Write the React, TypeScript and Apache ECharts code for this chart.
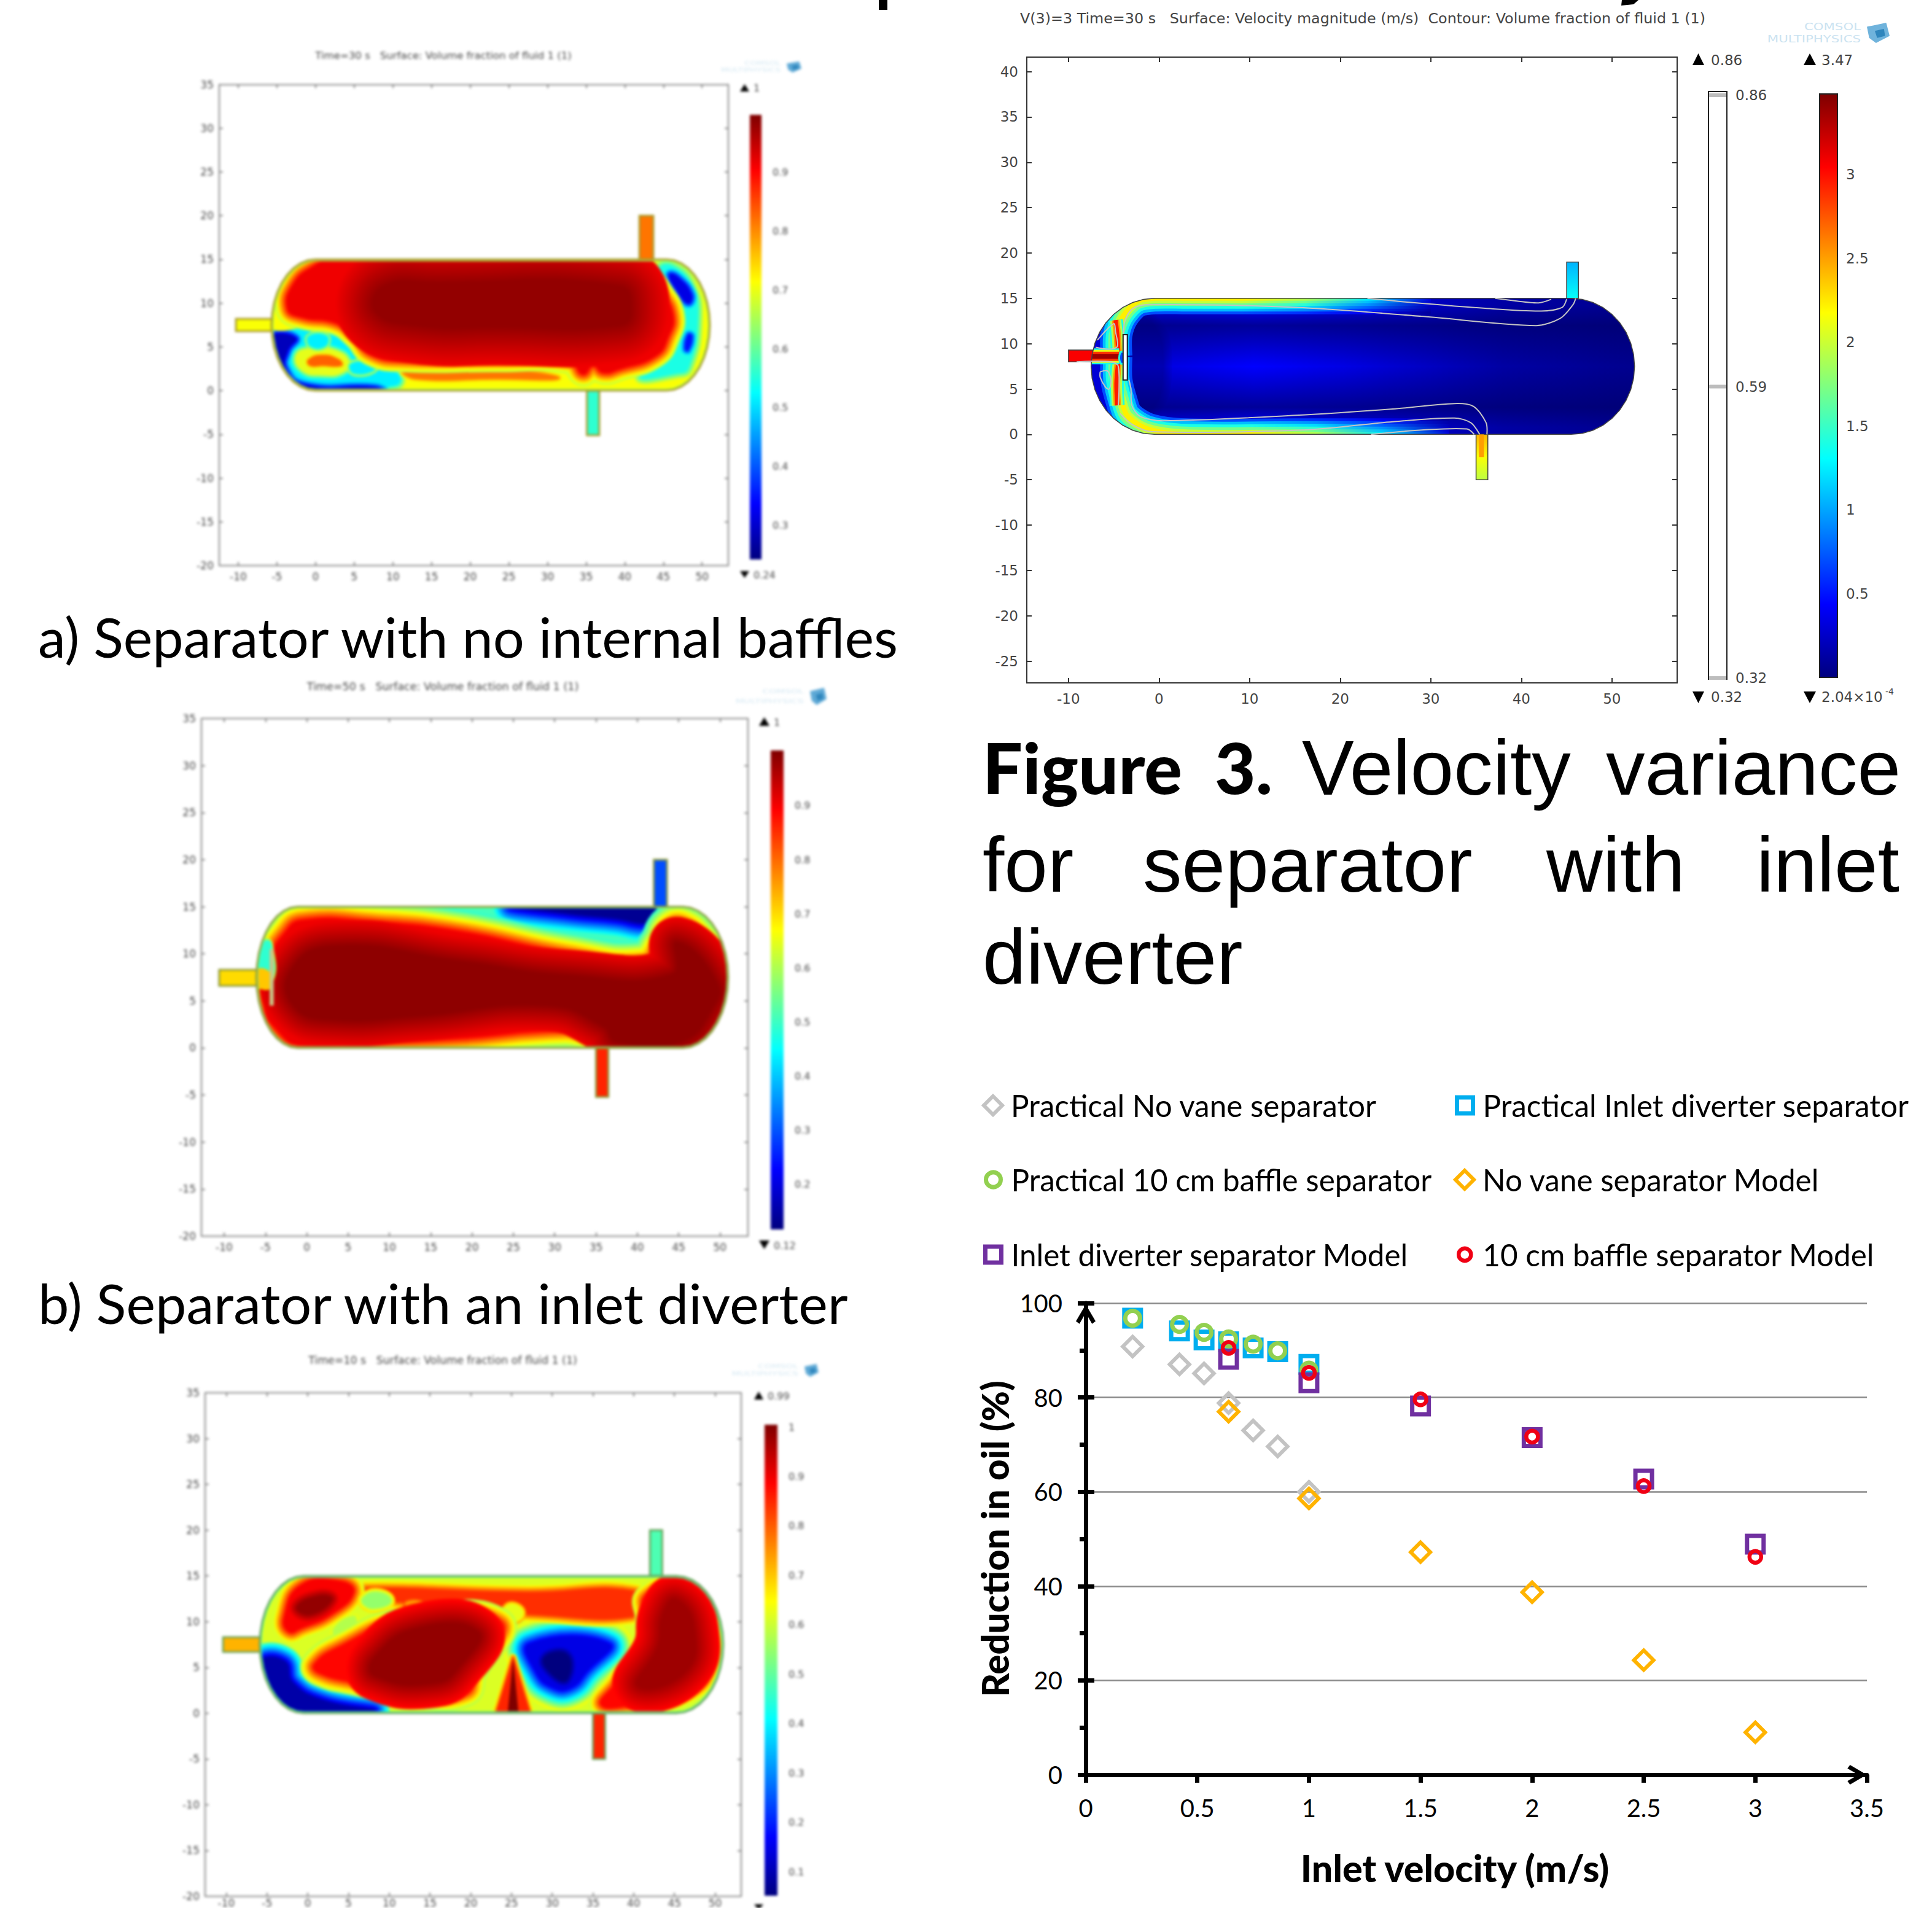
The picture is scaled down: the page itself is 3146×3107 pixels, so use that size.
import React, { useEffect, useRef } from "react";
import * as echarts from "echarts";

/* ---------- main scatter data ---------- */
const practicalVelocity = [0.21, 0.42, 0.53, 0.64, 0.75, 0.86, 1.0];
const modelVelocity = [0.64, 1, 1.5, 2, 2.5, 3];
const practicalNoVane = [90.8, 87, 85.1, 78.8, 73, 69.6, 60];
const practicalDiverter = [96.8, 94.1, 92.2, 91.8, 90.5, 89.7, 87];
const practicalBaffle = [96.8, 95.5, 93.8, 92.4, 91.3, 89.9, 85.8];
const modelNoVane = [77, 58.6, 47.2, 38.7, 24.3, 9];
const modelDiverter = [88.1, 83.1, 78.2, 71.5, 62.7, 48.9];
const modelBaffle = [90.5, 85.2, 79.6, 71.7, 61.2, 46.2];

/* ---------- axis ticks of the simulation plots ---------- */
const ticksX5 = [-10, -5, 0, 5, 10, 15, 20, 25, 30, 35, 40, 45, 50];
const ticksY55 = [-20, -15, -10, -5, 0, 5, 10, 15, 20, 25, 30, 35];
const ticksX10 = [-10, 0, 10, 20, 30, 40, 50];
const ticksY65 = [-25, -20, -15, -10, -5, 0, 5, 10, 15, 20, 25, 30, 35, 40];
const barA = [0.3, 0.4, 0.5, 0.6, 0.7, 0.8, 0.9];
const barB = [0.2, 0.3, 0.4, 0.5, 0.6, 0.7, 0.8, 0.9];
const barC = [0.1, 0.2, 0.3, 0.4, 0.5, 0.6, 0.7, 0.8, 0.9, 1];
const barSpeed = [0.5, 1, 1.5, 2, 2.5, 3];
const barContour = [0.32, 0.59, 0.86];

/* ---------- field regions, in plot units ---------- */
type Pt = number[];
const aCyanLow: Pt[] = [[-5.7,6.6],[-2.8,7],[2.5,6.2],[6.2,4.2],[9.8,2.5],[10.9,1.1],[9.3,.5],[2.5,0],[-1.2,-.3],[-4.4,1.7],[-5.7,4.2]];
const aBlueLow: Pt[] = [[-5.9,6.2],[-2.6,6],[-3.6,4.6],[-3.9,2.5],[-1.4,.6],[7.7,.3],[8.8,-.3],[-1.2,-.6],[-4.4,1.2],[-6,4.2]];
const aRing: Pt[] = [[-2.5,4],[-.7,4.8],[2.5,4.6],[4.3,3.3],[3.5,2.1],[.9,1.8],[-1.7,2.3]];
const aRingCore: Pt[] = [[-.9,3.5],[.9,4],[3,3.5],[3.3,2.9],[.9,2.9],[-.7,2.9]];
const aSpot1: Pt[] = [[-.8,6.2],[1.4,6.2],[1.2,5.1],[-.6,5.1]];
const aSpot2: Pt[] = [[4.6,3],[7,3.1],[7.6,2.4],[5,2]];
const aJet: Pt[] = [[-5.9,7],[-5.9,8.6],[-1.7,8.4],[2.5,7.8],[5,6.2],[3,6.4],[0,7.2]];
const aStrip: Pt[] = [[11.4,2.3],[18.3,2.6],[26.2,2.3],[31.4,1.4],[23.5,1.4],[12.9,1.4]];
const aRightCyan: Pt[] = [[44.6,14],[46.2,14.2],[48.6,12],[49.4,8.2],[48.2,2.6],[46.7,2],[42,1.6],[46.4,4.5],[47.5,8.6],[45.4,12.2]];
const aRightBlue1: Pt[] = [[45.8,13.2],[46.8,13],[48.6,11],[48.2,10],[46.8,11.4]];
const aRightBlue2: Pt[] = [[48.2,6.4],[48.7,6.2],[48.2,4.6],[47.8,4.8]];
const aMain: Pt[] = [[-3.6,9.4],[-2.8,12.2],[-.2,14.2],[3.5,15.6],[42,15.6],[42.7,13.8],[44.6,11.4],[46.2,8.6],[45.6,6.2],[44,4],[39.3,2.5],[37.2,2.1],[35.9,2.9],[34.6,1.9],[33,3.3],[23.5,3.5],[11.4,3.5],[7.2,4.2],[5.1,6.2],[2.5,7.8],[-1.7,8.4]];
const aCore: Pt[] = [[8.8,12],[15.6,12.4],[39.3,12],[40.9,9],[39.3,7.4],[23.5,7.2],[13,7.4],[7.7,9]];

const bBlueTop: Pt[] = [[25,15.2],[42.1,15.2],[42.7,13.9],[41.1,13.3],[37.5,13.8],[31.8,14.3]];
const bMain: Pt[] = [[-2.7,12.1],[-.6,13.5],[8.2,13.3],[18.7,12.3],[31.7,9.9],[40.6,9.1],[42.7,10.9],[44,12.9],[45.5,13.1],[47.9,11.4],[50.5,9],[51.3,7],[49.4,2.9],[45.5,-.3],[36.4,-.3],[34.8,.9],[33.5,1.7],[29.1,1.9],[18.7,1.1],[8.2,.7],[-.6,.3],[-3.7,2.1],[-5,4.5],[-4.2,9.7]];
const bCore: Pt[] = [[-2,8.1],[3,10.8],[18.7,9.2],[31.7,7.7],[44.2,7.8],[44.8,11.2],[49.6,7],[49,4.1],[45.3,.7],[37.5,.7],[35.9,2.3],[29.1,4.5],[13.5,3.4],[3,3],[-1.5,4.4]];
const bLeftHead: Pt[] = [[-6.4,6.8],[-6.4,9.5],[-5,11.4],[-4.3,11],[-4.3,7]];
const bJet: Pt[] = [[-6.2,6.7],[-6.2,8.3],[-4.4,8],[-4.4,6.3]];

const cBlueCorner: Pt[] = [[-6,5.7],[-2.9,5.7],[-1.8,3.3],[1.9,1.4],[8.2,.2],[-.2,-.5],[-3.4,.8],[-6,3.7]];
const cLeftRed: Pt[] = [[-2.9,10.4],[-.8,14],[4,14.4],[5.6,13.2],[2.9,10.8],[-.8,9.3],[-2.3,8.9]];
const cLeftCore: Pt[] = [[-1.3,11.6],[1.4,12.8],[2.9,12.4],[.3,10.8]];
const cUpperBand: Pt[] = [[5.1,13.6],[26.7,13.2],[41,13.2],[41.5,10.8],[27.2,10.8],[22.4,11.6],[10.8,12.2],[6.1,12.8]];
const cSpotA: Pt[] = [[6.8,12.6],[8.6,13.2],[10.2,12.3],[8.6,11.5],[7,11.8]];
const cSpotB: Pt[] = [[24.3,11.6],[25.6,11.8],[26.4,10.8],[25.2,10],[24.4,10.6]];
const cSpotC: Pt[] = [[3.2,9.2],[5.6,10.6],[5.8,9.6],[3.8,8.2]];
const cSpotD: Pt[] = [[12.2,12.1],[13.9,12.1],[13.9,11.5],[12.2,11.5]];
const cSpotE: Pt[] = [[17,12],[18.7,12],[18.7,11.4],[17,11.4]];
const cSpotF: Pt[] = [[20.5,11.8],[22,11.8],[22,11],[20.5,11]];
const cMain: Pt[] = [[.8,5.3],[4,7.3],[11.4,10],[23.6,10],[20.4,4.5],[19.4,2.2],[13.5,2],[5.6,3.4],[1.4,4.4]];
const cMainCore: Pt[] = [[8.2,6.1],[13.5,9.3],[20.9,8.9],[18.8,5.3],[15.6,3.3],[8.2,4.1]];
const cBlue: Pt[] = [[27.2,7.6],[37,7.6],[34.2,4.5],[32.3,2.8],[30.1,2.8],[28,4.5]];
const cBlueCore: Pt[] = [[29,6],[31.8,6.4],[31.8,3.7],[30.2,4.1]];
const cRight: Pt[] = [[41.5,10.4],[41.5,12.8],[46.2,13.9],[48.9,10],[49.4,5.3],[46.7,2.2],[39.9,.9],[36,.9],[37.8,3.3],[41.4,7.7]];
const cRightCore: Pt[] = [[43.6,10.8],[45.2,12.4],[47.4,9.3],[46.3,4.5],[40.5,3],[43,7.3]];
const cSpike: Pt[] = [[23,-.3],[25.2,6.1],[27.4,-.3]];
const cSpikeCore: Pt[] = [[24.5,-.3],[25.2,6],[25.9,-.3]];

const dBehind: Pt[] = [[-3.4,4],[-1,2.5],[.5,8],[-1,12.5],[-3.4,12]];
const dJetTop: Pt[] = [[-4.7,8.6],[-4.7,11],[-4,13],[-2.5,14.6],[-.5,15],[3,15],[15,15],[30,15]];
const dJetLow: Pt[] = [[-4.7,8.6],[-4.7,6],[-4.13,3.66],[-3.45,2],[-1.2,.6],[3,0],[15,0],[32,0]];
const dHotUp: Pt[] = [[-4.5,8.8],[-4.6,10.8],[-4.8,12.6]];
const dHotDown: Pt[] = [[-4.5,8],[-4.7,5.6],[-4.6,3.2]];
const dInletJet: Pt[] = [[-7.6,8.6],[-4.4,8.6]];
const dHole: Pt[] = [[-4.3,9],[-3.9,9],[-3.9,7.9],[-4.3,7.9]];
const dOutletHot: Pt[] = [[35.6,0],[35.6,-2.5]];
const dShade: Pt[] = [[-4,0],[60,0],[60,15],[-4,15]];
const dContours: Pt[][] = [
  [[37.1,15],[39.5,14.7],[41.9,14.5],[43.3,14.9]],
  [[23,15],[27.2,14.6],[36,13.9],[42.2,13.6],[44.5,14],[45,14.9]],
  [[-3.9,11.1],[-3.8,12.4],[-3,13.8],[-1.4,14.3],[15.1,14],[29.2,13],[41.6,12],[44.3,12.8],[45.7,14.3],[46,15]],
  [[-3.33,6],[-3.1,5],[-3,3.2],[-2.1,2],[.4,1.5],[15.1,2.1],[25.8,2.8],[32.6,3.4],[34.7,3.1],[36.1,1.3],[36.2,0]],
  [[-4.3,2.3],[-3,1.1],[-.8,.3],[16.2,.5],[25.8,1.4],[32.6,1.8],[34.4,1.3],[35.4,0]],
  [[23.4,0],[29.2,.5],[34,.6],[34.8,0]],
  [[-6.5,6.9],[-5.7,7],[-5.3,6],[-5.5,5],[-5.9,5.2],[-6.5,6.3],[-6.5,6.9]],
  [[-6.8,10.4],[-5,12.2],[-4.8,11.3],[-4.6,9.7],[-5.6,9.4],[-7,9.6]],
  [[-9.1,8],[-5.3,8],[-4.5,7.5],[-4.5,3.2]],
];
const dBaffle: Pt[] = [[-3.97,6],[-3.5,6],[-3.5,11],[-3.97,11]];
const bBaffle: Pt[] = [[-4.5,4.5],[-4,4.5],[-4,10.5],[-4.5,10.5]];

/* ---------- colour ---------- */
const JET: [number, number[]][] = [[0,[0,0,127]],[.125,[0,0,255]],[.375,[0,255,255]],[.625,[255,255,0]],[.875,[255,0,0]],[1,[127,0,0]]];
function jet(t: number) {
  const v = Math.max(0, Math.min(1, t));
  for (let i = 1; i < JET.length; i++) {
    if (v <= JET[i][0]) {
      const f = (v - JET[i-1][0]) / (JET[i][0] - JET[i-1][0]);
      const c = JET[i-1][1].map((a, k) => Math.round(a + (JET[i][1][k] - a) * f));
      return `rgb(${c[0]},${c[1]},${c[2]})`;
    }
  }
  return "rgb(127,0,0)";
}
const jetStops = JET.map(([o]) => ({ offset: 1 - o, color: jet(o) })).reverse();

function vesselOutline(l: number, fl: number, fr: number, r: number) {
  const out: Pt[] = [];
  const n = 18;
  for (let i = 0; i <= n; i++) { const a = Math.PI/2 - Math.PI*i/n; out.push([fr + (r-fr)*Math.cos(a), 7.5 + 7.5*Math.sin(a)]); }
  for (let i = 0; i <= n; i++) { const a = -Math.PI/2 - Math.PI*i/n; out.push([fl + (fl-l)*Math.cos(a), 7.5 + 7.5*Math.sin(a)]); }
  return out;
}
const box = (x0: number, x1: number, y0: number, y1: number): Pt[] => [[x0,y0],[x1,y0],[x1,y1],[x0,y1]];

type Layer = { pts: Pt[]; t: number; from?: number; px?: number; sharp?: boolean };

function blob(P: (p: Pt[]) => number[][], l: Layer) {
  const out: any[] = [];
  const points = P(l.pts);
  const smooth = l.sharp ? 0 : 0.5;
  if (l.px) {
    const steps = Math.max(4, Math.min(18, Math.round(l.px / 2)));
    for (let i = 0; i < steps; i++) {
      const k = i / steps;
      out.push({ type: "polygon", shape: { points, smooth },
        style: { fill: "none", stroke: jet((l.from as number) + (l.t - (l.from as number)) * k), lineWidth: 2 * l.px * (1 - k), lineJoin: "round" } });
    }
  }
  out.push({ type: "polygon", shape: { points, smooth }, style: { fill: jet(l.t) } });
  return out;
}

class Builder {
  grid: any[] = []; xAxis: any[] = []; yAxis: any[] = []; series: any[] = []; graphic: any[] = [];
  frame(o: any) {
    const gi = this.grid.length;
    this.grid.push({ left: o.left, top: o.top, width: o.right - o.left, height: o.bottom - o.top, containLabel: false });
    const line = { onZero: false, lineStyle: { color: o.line, width: o.lineW ?? 2 } };
    const label = { fontFamily: "DejaVu Sans", fontSize: o.font, color: o.text, margin: o.margin ?? 9 };
    const xi = this.xAxis.length, yi = this.yAxis.length;
    const tick = (vals: number[]) => ({ show: true, customValues: vals, inside: true, length: o.tick ?? 7, lineStyle: { color: o.line, width: o.lineW ?? 2 } });
    this.xAxis.push(
      { gridIndex: gi, type: "value", min: o.xMin, max: o.xMax, position: "bottom", axisLine: line, axisTick: tick(o.xTicks), axisLabel: { ...label, customValues: o.xTicks, margin: o.marginX ?? label.margin }, splitLine: { show: false } },
      { gridIndex: gi, type: "value", min: o.xMin, max: o.xMax, position: "top", axisLine: line, axisTick: tick(o.xTicks), axisLabel: { show: false }, splitLine: { show: false } });
    this.yAxis.push(
      { gridIndex: gi, type: "value", min: o.yMin, max: o.yMax, position: "left", axisLine: line, axisTick: tick(o.yTicks), axisLabel: { ...label, customValues: o.yTicks }, splitLine: { show: false } },
      { gridIndex: gi, type: "value", min: o.yMin, max: o.yMax, position: "right", axisLine: line, axisTick: tick(o.yTicks), axisLabel: { show: false }, splitLine: { show: false } });
    return { xi, yi };
  }
  bar(o: any) {
    const gi = this.grid.length;
    this.grid.push({ left: o.left, top: o.top, width: o.right - o.left, height: o.bottom - o.top, containLabel: false });
    const xi = this.xAxis.length, yi = this.yAxis.length;
    this.xAxis.push({ gridIndex: gi, type: "value", min: 0, max: 1, show: false });
    this.yAxis.push({ gridIndex: gi, type: "value", min: o.min, max: o.max, position: "right",
      axisLine: { show: false, onZero: false },
      axisTick: { show: !!o.ticks, customValues: o.ticks_vals, inside: true, length: 6, lineStyle: { color: "#222", width: 2 } },
      axisLabel: { customValues: o.labels, fontFamily: "DejaVu Sans", fontSize: o.font, color: o.text, margin: o.margin ?? 12, formatter: (v: number) => String(v) },
      splitLine: { show: false } });
    const white = o.white;
    this.series.push({ type: "custom", coordinateSystem: "cartesian2d", xAxisIndex: xi, yAxisIndex: yi, silent: true, clip: false, data: [[0, o.min]],
      renderItem: (_p: any, api: any) => {
        const a = api.coord([0, o.max]); const b = api.coord([1, o.min]);
        const kids: any[] = [{ type: "rect", shape: { x: a[0], y: a[1], width: b[0]-a[0], height: b[1]-a[1] },
          style: { fill: white ? "#fff" : new echarts.graphic.LinearGradient(0, 0, 0, 1, jetStops), stroke: o.border ?? "none", lineWidth: 2 } }];
        if (white) (o.labels as number[]).forEach((v) => {
          const p = api.coord([0, v]);
          kids.push({ type: "line", shape: { x1: a[0]+1, y1: p[1], x2: b[0]-1, y2: p[1] }, style: { stroke: "#bdbdbd", lineWidth: 6 } });
        });
        return { type: "group", children: kids };
      } });
  }
  text(text: string, x: number, y: number, s: any = {}) {
    this.graphic.push({ type: "text", x, y, scaleX: s.scaleX ?? 1, silent: true, style: { text, fontFamily: s.family ?? "DejaVu Sans", fontSize: s.size ?? 16, fontWeight: s.weight ?? "normal", fill: s.color ?? "#333", textAlign: s.align ?? "left", textVerticalAlign: "middle" } });
  }
  poly(points: number[][], fill: string) { this.graphic.push({ type: "polygon", silent: true, shape: { points }, style: { fill } }); }
  tri(x0: number, x1: number, y0: number, y1: number, up: boolean) {
    this.poly(up ? [[x0,y1],[x1,y1],[(x0+x1)/2,y0]] : [[x0,y0],[x1,y0],[(x0+x1)/2,y1]], "#000");
  }
  logo(x1: number, y0: number, y1: number, cube: number, size: number, stretch: number, c1: string, c2: string) {
    this.text("COMSOL", cube - 10, y0 + (y1-y0)*.2, { size, color: c1, align: "right", scaleX: stretch });
    this.text("MULTIPHYSICS", cube - 10, y0 + (y1-y0)*.8, { size, color: c1, align: "right", scaleX: stretch });
    const w = x1 - cube, h = y1 - y0;
    this.poly([[cube, y0+h*.2],[cube+w*.85, y0],[x1, y0+h*.65],[cube+w*.4, y1],[cube+w*.1, y0+h*.75]], c2);
    this.poly([[cube+w*.35, y0+h*.4],[cube+w*.75, y0+h*.3],[cube+w*.8, y0+h*.65],[cube+w*.45, y0+h*.75]], "#2f86bd");
  }
  field(axes: any, f: any) {
    this.series.push({ type: "custom", coordinateSystem: "cartesian2d", xAxisIndex: axes.xi, yAxisIndex: axes.yi, silent: true, clip: false, data: [[0, 0]],
      renderItem: (_p: any, api: any) => {
        const P = (pts: Pt[]) => pts.map((p) => api.coord(p));
        const shell = P(f.vessel);
        const inner: any[] = [];
        inner.push({ type: "polygon", shape: { points: shell }, style: { fill: f.baseFill ? f.baseFill() : jet(f.base) } });
        (f.layers as Layer[]).forEach((l) => inner.push(...blob(P, l)));
        if (f.paths) f.paths(P, inner);
        if (f.wall != null) inner.push({ type: "polygon", shape: { points: shell }, style: { fill: "none", stroke: jet(f.wall), lineWidth: f.wallW ?? 8, lineJoin: "round" } });
        const kids: any[] = [];
        (f.pipes as any[]).forEach((q) => kids.push({ type: "polygon", shape: { points: P(q.pts) }, style: { fill: q.fill ?? jet(q.t), stroke: f.edge, lineWidth: f.edgeW ?? 3 } }));
        kids.push({ type: "group", clipPath: { type: "polygon", shape: { points: shell } }, children: inner });
        kids.push({ type: "polygon", shape: { points: shell }, style: { fill: "none", stroke: f.edge, lineWidth: f.edgeW ?? 3 } });
        if (f.top) f.top(P, kids);
        return { type: "group", children: kids };
      } });
  }
  option() { return { animation: false, backgroundColor: "transparent", grid: this.grid, xAxis: this.xAxis, yAxis: this.yAxis, series: this.series, graphic: { elements: this.graphic } }; }
}

function softOption() {
  const b = new Builder();
  const ink = "#444";
  const style = { line: "#808080", text: ink, font: 17, tick: 6, lineW: 2 };
  // panel a
  const a = b.frame({ ...style, left: 357, right: 1186, top: 137.5, bottom: 921, xMin: -12.46, xMax: 53.4, yMin: -20, yMax: 35, xTicks: ticksX5, yTicks: ticksY55 });
  b.field(a, {
    vessel: vesselOutline(-5.7, 0, 45.4, 51), base: .62, wall: .54, wallW: 6, edge: "#a89a2a",
    layers: [
      { pts: aRightCyan, t: .4, from: .62, px: 12 }, { pts: aRightBlue1, t: .1, from: .36, px: 9 }, { pts: aRightBlue2, t: .14, from: .36, px: 7 },
      { pts: aCyanLow, t: .36, from: .58, px: 10 }, { pts: aBlueLow, t: .06, from: .33, px: 9 },
      { pts: aRing, t: .6, from: .38, px: 8 }, { pts: aRingCore, t: .78, from: .6, px: 5 },
      { pts: aSpot1, t: .36, from: .55, px: 5 }, { pts: aSpot2, t: .36, from: .58, px: 5 },
      { pts: aJet, t: .62 }, { pts: aStrip, t: .76, from: .62, px: 6 },
      { pts: aMain, t: .89, from: .56, px: 20 }, { pts: aCore, t: .98, from: .89, px: 62 },
    ],
    pipes: [{ pts: box(-10.3, -5.6, 6.8, 8.2), t: .62 }, { pts: box(41.9, 43.7, 15, 20), t: .76 }, { pts: box(35.1, 36.7, -5.1, 0), t: .42 }],
  });
  b.bar({ left: 1221, right: 1240, top: 187, bottom: 911, min: .242, max: .998, labels: barA, font: 16, text: ink, margin: 18 });
  b.tri(1205, 1220, 137, 149, true); b.text("1", 1227, 143, { size: 16, color: ink });
  b.tri(1205, 1220, 930, 941, false); b.text("0.24", 1227, 936, { size: 16, color: ink });
  b.text("Time=30 s   Surface: Volume fraction of fluid 1 (1)", 722, 90, { size: 16.6, color: ink, align: "center" });
  b.logo(1305, 100, 118, 1281, 8, 1.7, "#d3e7f2", "#5ea9d6");
  // panel b
  const p = b.frame({ ...style, left: 328, right: 1218, top: 1170, bottom: 2013, xMin: -12.75, xMax: 53.4, yMin: -20, yMax: 35, xTicks: ticksX5, yTicks: ticksY55 });
  b.field(p, {
    vessel: vesselOutline(-6.1, -1.1, 45.5, 51), base: .44, wall: .5, wallW: 5, edge: "#8d9a3a",
    layers: [
      { pts: bBlueTop, t: .02, from: .42, px: 30 },
      { pts: bMain, t: .89, from: .42, px: 36 }, { pts: bCore, t: .985, from: .89, px: 42 },
      { pts: bLeftHead, t: .42, from: .6, px: 3 }, { pts: bJet, t: .68 },
    ],
    pipes: [{ pts: box(-10.6, -6, 6.6, 8.3), t: .66 }, { pts: box(42, 43.6, 15, 20), t: .2 }, { pts: box(35, 36.5, -5.2, 0), t: .84 }],
    top: (P: any, kids: any[]) => kids.push({ type: "polygon", shape: { points: P(bBaffle) }, style: { fill: "#c8c88a" } }),
  });
  b.bar({ left: 1255, right: 1276, top: 1222, bottom: 2002, min: .117, max: 1.002, labels: barB, font: 16, text: ink, margin: 18 });
  b.tri(1236, 1253, 1168, 1182, true); b.text("1", 1260, 1176, { size: 16, color: ink });
  b.tri(1236, 1253, 2020, 2034, false); b.text("0.12", 1260, 2028, { size: 16, color: ink });
  b.text("Time=50 s   Surface: Volume fraction of fluid 1 (1)", 721, 1118, { size: 17.6, color: ink, align: "center" });
  b.logo(1346, 1120, 1148, 1319, 8, 1.95, "#d3e7f2", "#5ea9d6");
  // panel c
  const c = b.frame({ ...style, left: 334, right: 1207, top: 2268, bottom: 3098, xMin: -12.6, xMax: 53.2, yMin: -20, yMax: 35, xTicks: ticksX5, yTicks: ticksY55, marginX: 2 });
  b.field(c, {
    vessel: vesselOutline(-5.9, -.5, 45.2, 51), base: .59, wall: .46, wallW: 6, edge: "#6aa35a",
    layers: [
      { pts: cBlueCorner, t: .04, from: .45, px: 24 },
      { pts: cBlue, t: .1, from: .62, px: 34 }, { pts: cBlueCore, t: 0, from: .1, px: 10 },
      { pts: cUpperBand, t: .83, from: .6, px: 13 }, { pts: cLeftRed, t: .88, from: .58, px: 18 }, { pts: cLeftCore, t: .98, from: .88, px: 14 },
      { pts: cSpotA, t: .52, from: .66, px: 7 }, { pts: cSpotB, t: .6, from: .72, px: 5 }, { pts: cSpotC, t: .55, from: .62, px: 4 },
      { pts: cSpotD, t: .72, from: .8, px: 4 }, { pts: cSpotE, t: .72, from: .8, px: 4 }, { pts: cSpotF, t: .7, from: .8, px: 4 },
      { pts: cMain, t: .87, from: .55, px: 22 }, { pts: cMainCore, t: .98, from: .87, px: 40 },
      { pts: cRight, t: .87, from: .57, px: 18 }, { pts: cRightCore, t: .97, from: .87, px: 40 },
      { pts: cSpike, t: .84, from: .62, px: 6, sharp: true }, { pts: cSpikeCore, t: 1, sharp: true },
    ],
    pipes: [{ pts: box(-10.4, -5.8, 6.7, 8.3), t: .7 }, { pts: box(42, 43.5, 15, 20), t: .45 }, { pts: box(35, 36.5, -5, 0), t: .84 }],
  });
  b.bar({ left: 1245, right: 1266, top: 2320, bottom: 3087, min: .052, max: 1.005, labels: barC, font: 16, text: ink, margin: 18 });
  b.tri(1228, 1243, 2266, 2279, true); b.text("0.99", 1250, 2273, { size: 16, color: ink });
  b.tri(1228, 1243, 3101, 3110, false);
  b.text("Time=10 s   Surface: Volume fraction of fluid 1 (1)", 721, 2215, { size: 17.4, color: ink, align: "center" });
  b.logo(1333, 2221, 2242, 1310, 8, 1.9, "#d3e7f2", "#5ea9d6");
  return b.option();
}

const fade = [[0, 1], [.4, 1], [.6, .85], [.8, .55], [1, .14]];
function fadedStroke(t: number) {
  return new echarts.graphic.LinearGradient(0, 0, 1, 0, fade.map(([o, f]) => ({ offset: o, color: jet(t * f) })));
}
const bandLevels = [[52, .2], [43, .31], [34, .4], [25, .49], [16, .57], [8, .64]];

function sharpOption() {
  const b = new Builder();
  // fragments of a line of text cut by the top of the image
  b.poly([[1431,0],[1445,0],[1445,16],[1431,16]], "#000");
  b.poly([[2641,0],[2668,0],[2660,7],[2640,9]], "#000");
  const d = b.frame({ left: 1672, right: 2731, top: 93, bottom: 1112, xMin: -14.6, xMax: 57.2, yMin: -27.4, yMax: 41.6, xTicks: ticksX10, yTicks: ticksY65, line: "#333", text: "#444", font: 23, tick: 8, margin: 14 });
  b.field(d, {
    vessel: vesselOutline(-7.5, -.5, 45.5, 52.5),
    baseFill: () => new echarts.graphic.LinearGradient(0, 0, 1, 0, [[.06,.085],[.3,.125],[.46,.1],[.62,.065],[.76,.035],[1,.015]].map(([o, t]) => ({ offset: o, color: jet(t) }))),
    edge: "#444", edgeW: 1.5,
    layers: [{ pts: dBehind, t: .05, from: .09, px: 14 }],
    paths: (P: any, inner: any[]) => {
      // darker bands between the bright middle of the vessel and its walls
      inner.push({ type: "polygon", shape: { points: P(dShade) }, style: { fill: new echarts.graphic.LinearGradient(0, 0, 0, 1, [
        { offset: .05, color: "rgba(0,0,110,0)" }, { offset: .2, color: "rgba(0,0,110,.7)" }, { offset: .5, color: "rgba(0,0,110,0)" },
        { offset: .8, color: "rgba(0,0,110,.7)" }, { offset: .95, color: "rgba(0,0,110,0)" },
      ]) } });
      const line = (pts: Pt[], stroke: any, w: number) => inner.push({ type: "polyline", shape: { points: P(pts), smooth: .3 }, style: { fill: "none", stroke, lineWidth: w, lineCap: "butt", lineJoin: "round" } });
      bandLevels.forEach(([w, t]) => { line(dJetTop, fadedStroke(t), w); line(dJetLow, fadedStroke(t), w); });
      [[24,.4],[18,.55],[12,.72],[7,.85]].forEach(([w, t]) => { line(dHotUp, jet(t), w); line(dHotDown, jet(t), w); });
      [[26,.4],[21,.6],[15,.82],[8,.97]].forEach(([w, t]) => line(dInletJet, jet(t), w));
      inner.push({ type: "polygon", shape: { points: P(dHole), smooth: .5 }, style: { fill: jet(.2), stroke: jet(.4), lineWidth: 3 } });
    },
    pipes: [
      { pts: box(-10, -7.3, 8, 9.3), t: .88 },
      { pts: box(45, 46.3, 15, 19), fill: new echarts.graphic.LinearGradient(0, 0, 0, 1, [{ offset: 0, color: jet(.3) }, { offset: 1, color: jet(.38) }]) },
      { pts: box(35, 36.3, -5, 0), fill: new echarts.graphic.LinearGradient(0, 0, 0, 1, [{ offset: 0, color: jet(.7) }, { offset: .5, color: jet(.62) }, { offset: 1, color: jet(.56) }]) },
    ],
    top: (P: any, kids: any[]) => {
      kids.push({ type: "polyline", shape: { points: P(dOutletHot) }, style: { fill: "none", stroke: jet(.72), lineWidth: 8 } });
      dContours.forEach((c) => kids.push({ type: "polyline", shape: { points: P(c), smooth: .3 }, style: { fill: "none", stroke: "#c4c4c4", lineWidth: 2 } }));
      kids.push({ type: "polygon", shape: { points: P(dBaffle) }, style: { fill: "#fff", stroke: "#222", lineWidth: 2 } });
    },
  });
  b.bar({ left: 2782, right: 2812, top: 149, bottom: 1106, min: .3189, max: .8634, labels: barContour, font: 23, text: "#444", margin: 14, white: true, border: "#222", ticks: true, ticks_vals: barContour });
  b.bar({ left: 2963, right: 2992, top: 153, bottom: 1103, min: 0, max: 3.48, labels: barSpeed, font: 23, text: "#444", margin: 14, border: "#222", ticks: true, ticks_vals: barSpeed });
  b.tri(2756, 2775, 87, 106, true); b.text("0.86", 2786, 98, { size: 23, color: "#444" });
  b.tri(2937, 2957, 87, 106, true); b.text("3.47", 2966, 98, { size: 23, color: "#444" });
  b.tri(2756, 2775, 1126, 1145, false); b.text("0.32", 2786, 1135, { size: 23, color: "#444" });
  b.tri(2937, 2957, 1126, 1145, false); b.text("2.04×10", 2966, 1135, { size: 23, color: "#444" });
  b.text("-4", 3070, 1126, { size: 14, color: "#444" });
  b.text("V(3)=3 Time=30 s   Surface: Velocity magnitude (m/s)  Contour: Volume fraction of fluid 1 (1)", 1661, 30, { size: 23.8, color: "#444" });
  b.logo(3077, 37, 70, 3040, 15, 1.42, "#cbe3f1", "#6fb3dc");

  // captions
  b.text("a) Separator with no internal baffles", 62, 1036, { family: "Lato", size: 90, color: "#000" });
  b.text("b) Separator with an inlet diverter", 62, 2121, { family: "Lato", size: 90, color: "#000" });
  const A = { family: "Liberation Sans", size: 127, color: "#000" };
  const B = { family: "Lato", size: 115, weight: "900", color: "#000" };
  b.text("Figure", 1600, 1248, B); b.text("3.", 1978, 1248, B);
  b.text("Velocity", 2120, 1250, A); b.text("variance", 2615, 1250, A);
  b.text("for", 1600, 1408, A); b.text("separator", 1861, 1408, A); b.text("with", 2518, 1408, A); b.text("inlet", 2860, 1408, A);
  b.text("diverter", 1600, 1558, A);

  // main scatter chart
  const gi = b.grid.length;
  b.grid.push({ left: 1768, top: 2122, width: 1272, height: 768, containLabel: false });
  const xi = b.xAxis.length, yi = b.yAxis.length;
  const chevron = "path://M50 0 L100 85 L82 98 L50 42 L18 98 L0 85 Z";
  const heavy = { color: "#000", width: 7 };
  b.xAxis.push({ gridIndex: gi, type: "value", min: 0, max: 3.5, interval: .5, position: "bottom", name: "Inlet velocity (m/s)", nameLocation: "middle", nameGap: 121,
    nameTextStyle: { fontFamily: "Lato", fontWeight: "900", fontSize: 61, color: "#000", padding: [0, 70, 0, 0] },
    axisLine: { onZero: false, lineStyle: heavy, symbol: ["none", chevron], symbolSize: [32, 32], symbolOffset: [0, -16] },
    axisTick: { length: 13, lineStyle: heavy }, axisLabel: { fontFamily: "Lato", fontSize: 40, color: "#000", margin: 34 }, splitLine: { show: false } });
  b.yAxis.push({ gridIndex: gi, type: "value", min: 0, max: 100, interval: 20, position: "left", name: "Reduction in oil (%)", nameLocation: "middle", nameGap: 118,
    nameTextStyle: { fontFamily: "Lato", fontWeight: "900", fontSize: 60, color: "#000" },
    axisLine: { onZero: false, lineStyle: heavy, symbol: ["none", chevron], symbolSize: [32, 32], symbolOffset: [0, -18] },
    axisTick: { length: 13, lineStyle: heavy }, minorTick: { show: true, splitNumber: 2, length: 10, lineStyle: heavy },
    axisLabel: { fontFamily: "Lato", fontSize: 40, color: "#000", margin: 38 }, splitLine: { show: true, lineStyle: { color: "#8a8a8a", width: 2.5 } } });
  b.yAxis.push({ gridIndex: gi, type: "value", min: 0, max: 100, interval: 20, position: "left",
    axisLine: { show: false, onZero: false }, axisTick: { inside: true, length: 14, lineStyle: heavy }, axisLabel: { show: false }, splitLine: { show: false } });

  const scatter = (name: string, xs: number[], ys: number[], symbol: string, size: any, color: string, w: number) => ({
    name, type: "scatter", xAxisIndex: xi, yAxisIndex: yi, symbol, symbolSize: size, data: xs.map((x, i) => [x, ys[i]]), silent: true, clip: false,
    itemStyle: { color: "rgba(255,255,255,0)", borderColor: color, borderWidth: w, opacity: 1 },
  });
  b.series.push(
    scatter("Practical No vane separator", practicalVelocity, practicalNoVane, "diamond", 32, "#c3c3c3", 6),
    scatter("Practical Inlet diverter separator", practicalVelocity, practicalDiverter, "rect", 27, "#00aeef", 7),
    scatter("Practical 10 cm baffle separator", practicalVelocity, practicalBaffle, "circle", 24, "#92d050", 7),
    scatter("No vane separator Model", modelVelocity, modelNoVane, "diamond", 32, "#ffb300", 6),
    scatter("Inlet diverter separator Model", modelVelocity, modelDiverter, "rect", 27, "#7030a0", 7),
    scatter("10 cm baffle separator Model", modelVelocity, modelBaffle, "circle", 19, "#f00014", 6.5),
  );
  const legendAt = (name: string, cx: number, cy: number, size: number, w: number) => ({ show: true, data: [name], left: cx - size/2 - 3, top: cy - 29, orient: "horizontal", padding: 0, itemWidth: size, itemHeight: size, selectedMode: false,
    itemStyle: { borderWidth: w },
    textStyle: { fontFamily: "Lato", fontSize: 49.4, lineHeight: 58, color: "#000", padding: [0, 0, 0, 30 - size/2 - 6] } });
  const opt: any = b.option();
  opt.legend = [
    legendAt("Practical No vane separator", 1617, 1800, 30, 6), legendAt("Practical Inlet diverter separator", 2385, 1800, 26, 7),
    legendAt("Practical 10 cm baffle separator", 1617, 1921, 24, 7), legendAt("No vane separator Model", 2385, 1921, 30, 6),
    legendAt("Inlet diverter separator Model", 1617, 2043, 26, 7), legendAt("10 cm baffle separator Model", 2385, 2043, 20, 6.5),
  ];
  return opt;
}

function ChartLayer({ make, blur }: { make: () => any; blur?: number }) {
  const ref = useRef<HTMLDivElement>(null);
  useEffect(() => {
    const chart = echarts.init(ref.current as HTMLDivElement, undefined, { renderer: "svg", width: 3146, height: 3107 });
    chart.setOption(make());
    return () => chart.dispose();
  }, [make]);
  return <div ref={ref} style={{ position: "absolute", left: 0, top: 0, width: 3146, height: 3107, overflow: "hidden", filter: blur ? `blur(${blur}px)` : undefined }} />;
}

export default function App() {
  return (
    <div style={{ position: "absolute", left: 0, top: 0, width: 3146, height: 3107, background: "#fff", overflow: "hidden" }}>
      <ChartLayer make={softOption} blur={2.2} />
      <ChartLayer make={sharpOption} />
    </div>
  );
}
